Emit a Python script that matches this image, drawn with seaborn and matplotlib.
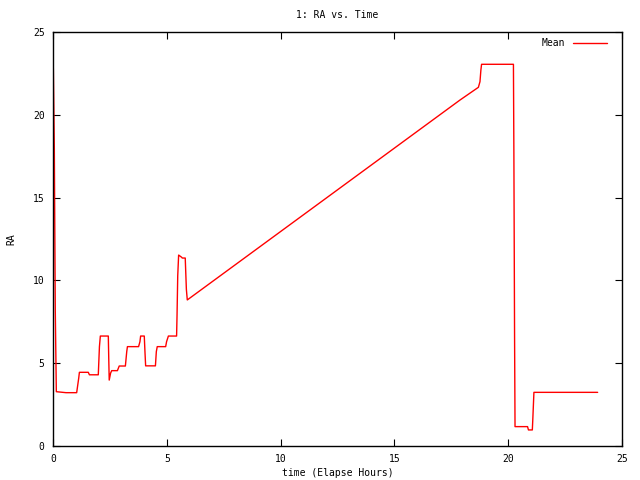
import pandas as pd
import numpy as np
import matplotlib
matplotlib.use('Agg')
import matplotlib.pyplot as plt
import seaborn as sns

# RA mean values (time in elapsed hours)
hours = [0.015, 0.058, 0.10, 0.146, 0.571, 1.04, 1.13, 1.16, 1.55, 1.60,
         1.99, 2.04, 2.08, 2.43, 2.45, 2.47, 2.53, 2.58, 2.83, 2.91,
         3.18, 3.24, 3.27, 3.76, 3.82, 3.85, 4.01, 4.04, 4.07, 4.50,
         4.54, 4.58, 4.95, 4.99, 5.07, 5.43, 5.45, 5.48, 5.52, 5.65,
         5.68, 5.81, 5.86, 5.90, 17.88, 18.69, 18.76, 18.80, 18.83, 20.23,
         20.25, 20.28, 20.30, 20.85, 20.89, 21.06, 21.08, 21.13, 23.93]
ra = [22.8, 17.98, 8.2, 3.28, 3.22, 3.22, 4.1, 4.45, 4.45, 4.3,
      4.3, 6.0, 6.64, 6.64, 5.25, 3.98, 4.4, 4.55, 4.55, 4.83,
      4.83, 5.7, 6.0, 6.0, 6.3, 6.64, 6.64, 5.7, 4.84, 4.84,
      5.7, 6.0, 6.0, 6.3, 6.64, 6.64, 7.9, 10.27, 11.53, 11.4,
      11.35, 11.35, 9.46, 8.82, 20.89, 21.66, 22.0, 22.7, 23.05, 23.05,
      17.57, 6.6, 1.17, 1.17, 0.97, 0.97, 1.57, 3.24, 3.24]

df = pd.DataFrame({'time': hours, 'RA': ra, 'series': 'Mean'})

sns.set_style('ticks')
plt.rcParams['font.family'] = ['DejaVu Sans Mono']
plt.rcParams['text.color'] = 'black'
plt.rcParams['axes.labelcolor'] = 'black'
plt.rcParams['xtick.color'] = 'black'
plt.rcParams['ytick.color'] = 'black'

fig = plt.figure(figsize=(6.4, 4.8), dpi=100)
ax = fig.add_axes([53 / 640, 34 / 480, 569 / 640, 414 / 480])

sns.lineplot(data=df, x='time', y='RA', hue='series', palette=['#ff0000'],
             sort=False, estimator=None, linewidth=1, ax=ax)

ax.set_xlim(0, 25)
ax.set_ylim(0, 25)
ax.set_xticks([0, 5, 10, 15, 20, 25])
ax.set_yticks([0, 5, 10, 15, 20, 25])
ax.tick_params(direction='in', top=True, right=True, labelsize=7, length=5,
               width=0.8, pad=6, colors='black')
for s in ax.spines.values():
    s.set_linewidth(1)
    s.set_color('black')

ax.set_title('1: RA vs. Time', fontsize=7, pad=10, color='black')
ax.set_xlabel('time (Elapse Hours)', fontsize=7, labelpad=3)
ax.set_ylabel('RA', fontsize=7, labelpad=12)

leg = ax.legend(loc='upper right', bbox_to_anchor=(0.981, 0.994), frameon=False,
                markerfirst=False, fontsize=7, handlelength=3.5, borderaxespad=0)

fig.savefig('out.png', dpi=100)
